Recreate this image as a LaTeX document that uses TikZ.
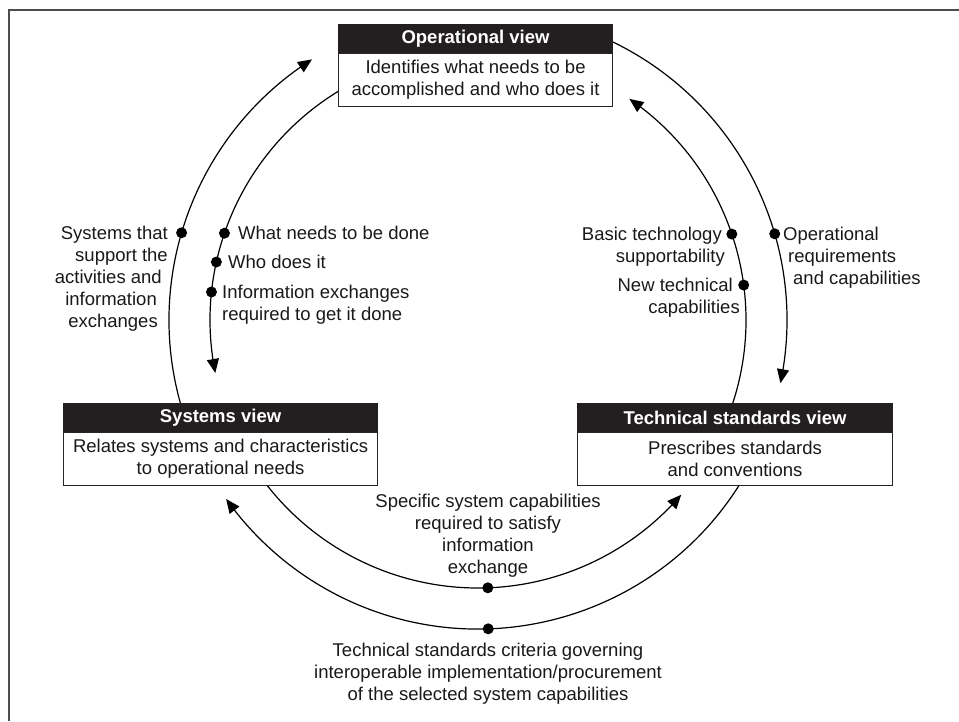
\documentclass[tikz,border=0pt]{standalone}
\usepackage{fontspec}
\setmainfont{Liberation Sans}
\usetikzlibrary{arrows.meta,calc,backgrounds,bending}
\definecolor{hdrcol}{HTML}{231F20}
\begin{document}
\begin{tikzpicture}[x=1pt,y=-1pt,
  every node/.style={font=\fontsize{18.5}{22}\selectfont, text=black!90},
  hdr/.style={fill=hdrcol, draw=hdrcol, line width=1.1pt, text=white, font=\bfseries\fontsize{18.5}{22}\selectfont, minimum height=28pt, inner sep=0pt},
  bodybox/.style={fill=white, draw=black!85, line width=1.1pt, minimum height=53pt, inner sep=0pt, align=center},
  flow/.style={line width=1.2pt, -{Triangle[length=14pt,width=12pt]}},
  dot/.style={circle, fill=black, draw=none, inner sep=0pt, minimum size=11pt},
  lbl/.style={inner sep=0pt},
  frame/.style={line width=1.6pt, draw=black!70}]
\useasboundingbox (0,0) rectangle (959,721);
\draw[frame] (9,721) -- (9,10) -- (959,10);

\coordinate (O) at (478,320);

% boxes
\node[bodybox, minimum width=274pt, anchor=north west] (opb) at (338,53) {Identifies what needs to be\\accomplished and who does it};
\node[hdr, minimum width=274pt, anchor=south west] (oph) at (opb.north west) {Operational view};

\node[bodybox, minimum width=314pt, anchor=north west] (sysb) at (63,432) {Relates systems and characteristics\\to operational needs};
\node[hdr, minimum width=314pt, anchor=south west] (sysh) at (sysb.north west) {Systems view};

\node[bodybox, minimum width=315pt, anchor=north west] (tecb) at (577,432) {Prescribes standards\\and conventions};
\node[hdr, minimum width=315pt, anchor=south west] (tech) at (tecb.north west) {Technical standards view};

% arcs behind the boxes
\begin{scope}[on background layer]
\draw[flow] ($(O)+(199:309pt)$) arc[start angle=199, end angle=122.5, radius=309pt];
\draw[flow] ($(O)+(68:309pt)$) arc[start angle=68, end angle=-11.8, radius=309pt];
\draw[flow] ($(O)+(-28:309pt)$) arc[start angle=-28, end angle=-144.6, radius=309pt];
\draw[flow] ($(O)+(118:268pt)$) arc[start angle=118, end angle=191.4, radius=268pt];
\draw[flow] ($(O)+(-22:268pt)$) arc[start angle=-22, end angle=55.6, radius=268pt];
\draw[flow] ($(O)+(214:268pt)$) arc[start angle=214, end angle=319.3, radius=268pt];
\end{scope}

% dots
\node[dot] (d1) at ($(O)+(163.6:309pt)$) {};
\node[dot] (d2) at ($(O)+(16.2:309pt)$) {};
\node[dot] (d3) at ($(O)+(-88.1:309pt)$) {};
\node[dot] (d4) at ($(O)+(161.1:268pt)$) {};
\node[dot] (d5) at ($(O)+(167.5:268pt)$) {};
\node[dot] (d6) at ($(O)+(174:268pt)$) {};
\node[dot] (d7) at ($(O)+(18.7:268pt)$) {};
\node[dot] (d8) at ($(O)+(7.5:268pt)$) {};
\node[dot] (d9) at ($(O)+(-87.9:268pt)$) {};

% labels
\node[lbl, anchor=north east, align=right] (sysl) at (168,226) {Systems that\\support the\\activities and\hspace*{6pt}\mbox{}\\information\hspace*{11pt}\mbox{}\\exchanges\hspace*{10pt}\mbox{}};
\node[lbl, anchor=north west] (whatl) at (238,226) {What needs to be done};
\node[lbl, anchor=north west] (whol) at (228,255) {Who does it};
\node[lbl, anchor=north west, align=left] (infol) at (222,285) {Information exchanges\\required to get it done};
\node[lbl, anchor=north east, align=right] (basicl) at (725,227) {Basic technology\hspace*{3pt}\mbox{}\\supportability};
\node[lbl, anchor=north east, align=right] (newl) at (740,278) {New technical\hspace*{7pt}\mbox{}\\capabilities};
\node[lbl, anchor=north west, align=left] (opl) at (783,227) {Operational\\\hspace*{5pt}requirements\\\hspace*{10pt}and capabilities};
\node[lbl, anchor=north, align=center] (specl) at (488,494) {Specific system capabilities\\required to satisfy\\information\\exchange};
\node[lbl, anchor=north, align=center] (techl) at (488,643) {Technical standards criteria governing\\interoperable implementation/procurement\\of the selected system capabilities};
\end{tikzpicture}
\end{document}
